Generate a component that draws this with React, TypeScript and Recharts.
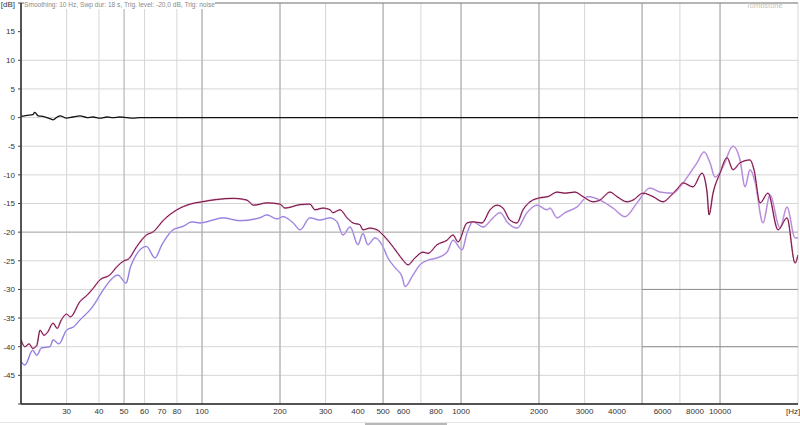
import { LineChart, Line, XAxis, YAxis, CartesianGrid, ReferenceLine } from "recharts";

// frequency response, channel A (dark maroon)
const upperFreqs = [20, 20.7, 21.5, 22.2, 23, 23.7, 24.5, 25.3, 26.6, 27.6, 28.5, 30, 31, 33.8, 36, 38, 40.4, 44, 47, 50, 52, 56, 61, 65, 71, 80, 90, 100, 114, 132, 149, 158, 178, 200, 209, 239, 261, 273, 293, 312, 320, 341, 363, 383, 407, 418, 445, 474, 500, 532, 566, 597, 624, 664, 713, 745, 808, 883, 931, 974, 1054, 1112, 1205, 1294, 1377, 1452, 1545, 1644, 1735, 1847, 2018, 2166, 2347, 2520, 2754, 2957, 3232, 3440, 3760, 4002, 4373, 4613, 5041, 5510, 6024, 6408, 6882, 7197, 7864, 8520, 8908, 9069, 9396, 10000, 10638, 11220, 11944, 13054, 13524, 14266, 15318, 16744, 18140, 19474, 20000];
const upperDb = [-38.8, -40, -39.5, -40.3, -39.8, -37.1, -38, -37.5, -35.9, -36.8, -35.5, -34.3, -34.8, -32.1, -31, -29.8, -28.3, -27.5, -26, -25, -24.7, -22.5, -20.5, -19.9, -17.9, -16.1, -15.1, -14.7, -14.3, -14.1, -14.4, -15.3, -14.9, -15.1, -15.8, -15.2, -15.1, -16.1, -15.8, -16.1, -16.6, -16.1, -17.5, -18.4, -18.7, -19.6, -19.3, -19.6, -20.5, -21.9, -23.5, -24.9, -25.7, -24.5, -23.5, -23.7, -22.2, -21.4, -20.5, -21.7, -18.4, -18.2, -18.4, -16.1, -15.3, -15.8, -17.9, -18.4, -16.1, -14.7, -14, -13.8, -13, -13.2, -13, -13.8, -14.7, -14.4, -13, -13.8, -14.7, -14.4, -13.2, -13.8, -14.7, -13.8, -12.3, -11.4, -12.1, -9.7, -13, -17, -13.2, -9.7, -7, -9.1, -7.9, -7.4, -9.1, -14.9, -13.2, -19.6, -17.5, -25.4, -24];

// frequency response, channel B (blue / violet)
const lowerFreqs = [20, 20.7, 22.2, 23, 24, 25.9, 26.6, 28, 30, 32, 33.8, 36.9, 38.5, 41.5, 47.4, 50.9, 53, 61, 65.8, 70, 77.3, 84.4, 91.5, 98, 110, 120.5, 140, 167, 178, 195, 205, 225, 239, 261, 285, 312, 332, 350, 373, 400, 418, 437, 465, 495, 522, 556, 592, 608, 652, 694, 745, 808, 883, 931, 1009, 1054, 1112, 1216, 1329, 1414, 1518, 1644, 1798, 1965, 2148, 2205, 2347, 2520, 2804, 3092, 3440, 3862, 4297, 4780, 5366, 5866, 6582, 7006, 7656, 8149, 8672, 9150, 9564, 10265, 11220, 11944, 12485, 13054, 13646, 14652, 15592, 17044, 18140, 19474, 20000];
const lowerDb = [-42.6, -43.2, -40.6, -41.5, -40.2, -40, -38.8, -39.5, -37.1, -36.5, -35.3, -33.6, -32.5, -30.1, -27.5, -28.9, -26, -22.5, -24.5, -22.2, -19.6, -19, -18.2, -18.4, -17.9, -17.5, -18, -17.5, -17, -17.7, -17.3, -18.4, -19.6, -17.5, -17.9, -17.5, -18.2, -20.5, -19.1, -22.2, -20.2, -22.2, -21, -22.2, -24.5, -26.2, -27.8, -29.5, -27.5, -25.7, -24.9, -24.5, -23.5, -21.4, -23.1, -20.2, -18.2, -19.1, -17.5, -16.6, -18.4, -19.3, -16.6, -15.3, -16.1, -15.8, -17.5, -16.6, -15.6, -13.8, -14.4, -15.8, -17.3, -14.9, -12.3, -13, -13.2, -12.1, -9.7, -7.9, -6, -7.9, -10.4, -8.6, -5, -7.4, -12.1, -9.1, -11.2, -18.4, -13.5, -19.3, -15.6, -21, -21];

// reference trace near 0 dB (black)
const refFreqs = [20, 21.1, 22.2, 22.6, 23.3, 24.3, 25.9, 26.6, 27.6, 28.3, 30, 31.7, 33.8, 36, 37.9, 40.4, 43, 45.3, 48.2, 51.3, 54.1, 57.6, 70.7, 20000];
const refDb = [0.2, 0.4, 0.5, 0.9, 0.3, 0.2, -0.2, -0.4, 0.1, 0.3, -0.1, 0.1, 0.3, 0, 0.1, -0.1, 0.1, 0, 0.1, 0, -0.1, 0, 0, 0];

const xTicks = [20, 30, 40, 50, 60, 70, 80, 90, 100, 200, 300, 400, 500, 600, 700, 800, 900, 1000, 2000, 3000, 4000, 5000, 6000, 7000, 8000, 9000, 10000, 20000];
const xHidden = [20, 900, 7000, 9000, 20000];
const xStrong = [50, 100, 200, 500, 1000, 2000, 5000, 10000];
const yTicks = [-50, -45, -40, -35, -30, -25, -20, -15, -10, -5, 0, 5, 10, 15, 20];

const toPoints = (f: number[], v: number[]) => f.map((freq, i) => ({ freq, db: v[i] }));
const upper = toPoints(upperFreqs, upperDb);
const lower = toPoints(lowerFreqs, lowerDb);
const ref = toPoints(refFreqs, refDb);

const font = "'Liberation Sans', Arial, sans-serif";

export default function App() {
  return (
    <div style={{ position: "absolute", left: 0, top: 0, width: 800, height: 425, background: "#fff", fontFamily: font }}>
      <LineChart width={800} height={425} margin={{ top: 3, right: 2, bottom: 0, left: 0 }}>
        <defs>
          <linearGradient id="lowGrad" x1="0" y1="0" x2="1" y2="0">
            <stop offset="0" stopColor="#6a6ad8" />
            <stop offset="0.45" stopColor="#8478d8" />
            <stop offset="0.75" stopColor="#9c78d4" />
            <stop offset="1" stopColor="#b078d2" />
          </linearGradient>
        </defs>
        <CartesianGrid stroke="#d6d6d6" strokeWidth={1} />
        {xStrong.map((f) => (
          <ReferenceLine key={f} x={f} stroke="#a8a8a8" strokeWidth={1} />
        ))}
        <ReferenceLine y={-20} stroke="#b0b0b0" />
        <ReferenceLine y={20} stroke="#808080" />
        <ReferenceLine segment={[{ x: 5000, y: -30 }, { x: 20000, y: -30 }]} stroke="#909090" />
        <ReferenceLine segment={[{ x: 5000, y: -40 }, { x: 20000, y: -40 }]} stroke="#909090" />
        <XAxis
          dataKey="freq"
          type="number"
          scale="log"
          domain={[20, 20000]}
          ticks={xTicks}
          allowDataOverflow
          height={21}
          tickLine={false}
          tickSize={0}
          tickMargin={4}
          axisLine={{ stroke: "#222", strokeWidth: 1.5 }}
          tick={{ fontSize: 8, fill: "#333", fontFamily: font }}
          tickFormatter={(v: number) => (xHidden.includes(v) ? "" : String(v))}
        />
        <YAxis
          type="number"
          domain={[-50, 20]}
          ticks={yTicks}
          width={21}
          tickSize={3}
          tickMargin={3}
          axisLine={{ stroke: "#222", strokeWidth: 1.5 }}
          tickLine={{ stroke: "#444" }}
          tick={{ fontSize: 8, fill: "#333", fontFamily: font }}
          tickFormatter={(v: number) => (v === 20 ? "[dB]" : v === -50 ? "" : String(v))}
        />
        <Line data={ref} dataKey="db" type="monotone" stroke="#111" strokeWidth={1.3} dot={false} isAnimationActive={false} />
        <Line data={lower} dataKey="db" type="monotone" stroke="#dcc0f0" strokeWidth={1.8} dot={false} isAnimationActive={false} />
        <Line data={lower} dataKey="db" type="monotone" stroke="url(#lowGrad)" strokeWidth={0.9} dot={false} isAnimationActive={false} />
        <Line data={upper} dataKey="db" type="monotone" stroke="#e0a0d0" strokeWidth={1.8} dot={false} isAnimationActive={false} />
        <Line data={upper} dataKey="db" type="monotone" stroke="#6e1030" strokeWidth={1} dot={false} isAnimationActive={false} />
      </LineChart>
      <div style={{ position: "absolute", left: 24, top: 1, fontSize: 6.6, color: "#8a8a8a", whiteSpace: "nowrap", background: "#fff", lineHeight: "8px" }}>
        Smoothing: 10 Hz, Swp dur: 18 s, Trig. level: -20,0 dB, Trig: noise
      </div>
      <div style={{ position: "absolute", left: 746, top: 1, fontSize: 7.5, color: "#c4c4c4", whiteSpace: "nowrap", lineHeight: "9px" }}>
        Tombstone
      </div>
      <div style={{ position: "absolute", left: 786, top: 407, fontSize: 8, color: "#333", whiteSpace: "nowrap", lineHeight: "10px" }}>
        [Hz]
      </div>
      <div style={{ position: "absolute", left: 0, top: 422, width: 800, height: 1, background: "#e4e4e4" }} />
      <div style={{ position: "absolute", left: 365, top: 423, width: 82, height: 2, background: "#b8b8b8" }} />
    </div>
  );
}
